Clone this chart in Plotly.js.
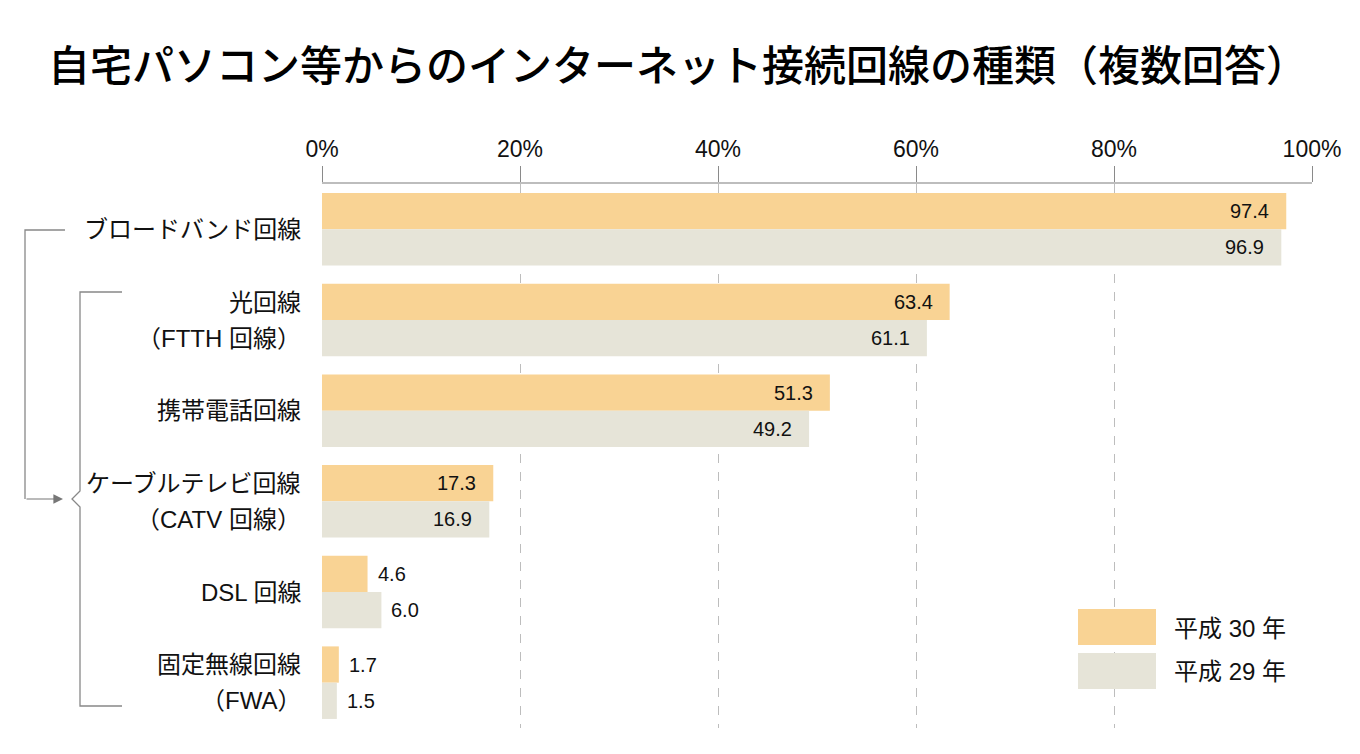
<!DOCTYPE html>
<html>
<head>
<meta charset="utf-8">
<script src="https://cdn.plot.ly/plotly-3.0.1.min.js"></script>
<style>html,body{margin:0;padding:0;background:#fff;}#chart{width:1360px;height:754px;}</style>
</head>
<body>
<div id="chart"></div>
<script>
// ---- data ----
const categories = ['ブロードバンド回線', '光回線（FTTH 回線）', '携帯電話回線', 'ケーブルテレビ回線（CATV 回線）', 'DSL 回線', '固定無線回線（FWA）'];
const categoryLines = [['ブロードバンド回線'], ['光回線', '（FTTH 回線）'], ['携帯電話回線'], ['ケーブルテレビ回線', '（CATV 回線）'], ['DSL 回線'], ['固定無線回線', '（FWA）']];
const seriesNames = ['平成 30 年', '平成 29 年'];
const h30 = [97.4, 63.4, 51.3, 17.3, 4.6, 1.7];
const h29 = [96.9, 61.1, 49.2, 16.9, 6.0, 1.5];
const tickValues = [0, 20, 40, 60, 80, 100];
const tickLabels = ['0%', '20%', '40%', '60%', '80%', '100%'];
const titleText = '自宅パソコン等からのインターネット接続回線の種類（複数回答）';

// ---- style ----
const FONT = 'Liberation Sans, Arial, Noto Sans CJK JP, sans-serif';
const colors = ['#F9D394', '#E6E4D8'];
const W = 1360, H = 754;
const L = 322, R = 1312, T = 184, B = 728;
const px = x => (x - L) / (R - L);
const py = y => (B - y) / (B - T);

const traces = [h30, h29].map((vals, i) => ({
  type: 'bar', orientation: 'h', name: seriesNames[i],
  y: categories, x: vals,
  marker: {color: colors[i], line: {width: 0}},
  hoverinfo: 'x+name', showlegend: false
}));

const annotations = [];
// value labels
[h30, h29].forEach((vals, s) => {
  vals.forEach((v, i) => {
    const inside = v >= 10;
    annotations.push({
      xref: 'x', yref: 'y', x: v, y: i,
      yshift: s === 0 ? 18 : -18,
      xshift: inside ? -15 : 8,
      xanchor: inside ? 'right' : 'left', yanchor: 'middle',
      text: v.toFixed(1), showarrow: false,
      font: {family: FONT, size: 20, color: '#111'}
    });
  });
});
// category labels
categoryLines.forEach((lines, i) => {
  lines.forEach((t, j) => {
    const shift = lines.length === 1 ? 0 : (j === 0 ? 18 : -18);
    annotations.push({
      xref: 'paper', yref: 'y', x: px(303), y: i, yshift: shift,
      xanchor: 'right', yanchor: 'middle', text: t, showarrow: false,
      font: {family: FONT, size: 24, color: '#111'}
    });
  });
});
// legend labels
seriesNames.forEach((n, i) => {
  annotations.push({
    xref: 'paper', yref: 'paper', x: px(1172), y: py(i === 0 ? 628 : 671),
    xanchor: 'left', yanchor: 'middle', text: n, showarrow: false,
    font: {family: FONT, size: 24, color: '#111'}
  });
});
// bracket arrow
annotations.push({
  xref: 'paper', yref: 'paper', x: px(63), y: py(499), ax: -38, ay: 0,
  axref: 'pixel', ayref: 'pixel', text: '', showarrow: true,
  arrowhead: 2, arrowsize: 1.6, arrowwidth: 1.2, arrowcolor: '#777'
});

const P = pts => pts.map((p, k) => (k ? 'L ' : 'M ') + px(p[0]).toFixed(5) + ' ' + py(p[1]).toFixed(5)).join(' ');
const lineStyle = {color: '#888', width: 1.3};
const shapes = [
  {type: 'path', xref: 'paper', yref: 'paper', path: P([[65, 230], [25, 230], [25, 499]]), line: lineStyle},
  {type: 'path', xref: 'paper', yref: 'paper',
   path: P([[122, 292], [80, 292], [80, 491], [72, 499], [80, 507], [80, 706], [122, 706]]), line: lineStyle},
  // legend swatches
  {type: 'rect', xref: 'paper', yref: 'paper', x0: px(1078), x1: px(1156), y0: py(645), y1: py(609),
   fillcolor: colors[0], line: {width: 0}, layer: 'above'},
  {type: 'rect', xref: 'paper', yref: 'paper', x0: px(1078), x1: px(1156), y0: py(689), y1: py(653),
   fillcolor: colors[1], line: {width: 0}, layer: 'above'}
];

const layout = {
  width: W, height: H,
  margin: {l: L, r: W - R, t: T, b: H - B, pad: 0},
  paper_bgcolor: '#fff', plot_bgcolor: '#fff',
  barmode: 'group', bargap: 0.2, bargroupgap: 0,
  title: {text: titleText, x: 678 / W, xanchor: 'center', xref: 'container',
          y: 1 - 66 / H, yanchor: 'middle', yref: 'container',
          font: {family: 'Noto Sans CJK JP, sans-serif', size: 42, color: '#000', weight: 500}},
  xaxis: {
    side: 'top', range: [0, 100], tickvals: tickValues, ticktext: tickLabels,
    ticks: 'outside', ticklen: 16, tickcolor: '#8a8a8a', tickwidth: 1,
    showline: true, linecolor: '#bdbdbd', linewidth: 2,
    showgrid: true, gridcolor: '#bdbdbd', griddash: 'dash', gridwidth: 1,
    zeroline: false, layer: 'above traces',
    tickfont: {family: FONT, size: 23, color: '#111'}, fixedrange: true
  },
  yaxis: {
    type: 'category', categoryorder: 'array', categoryarray: categories,
    autorange: 'reversed', showticklabels: false, ticks: '', showgrid: false,
    zeroline: false, showline: false, fixedrange: true
  },
  showlegend: false,
  annotations: annotations,
  shapes: shapes
};

Plotly.newPlot('chart', traces, layout, {displayModeBar: false, staticPlot: true});
</script>
</body>
</html>
